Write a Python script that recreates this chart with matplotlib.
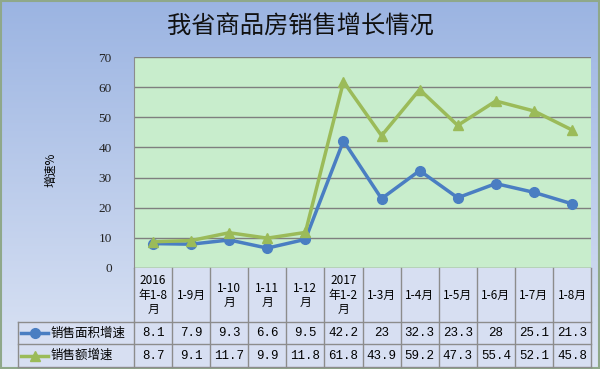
import numpy as np
import matplotlib.pyplot as plt
from matplotlib.lines import Line2D
from matplotlib.patches import Rectangle
from matplotlib.colors import LinearSegmentedColormap

plt.rcParams['font.family'] = ['Noto Sans CJK SC', 'DejaVu Sans']

# data
categories = ['2016\n年1-8\n月', '1-9月', '1-10\n月', '1-11\n月', '1-12\n月', '2017\n年1-2\n月',
              '1-3月', '1-4月', '1-5月', '1-6月', '1-7月', '1-8月']
area_growth = [8.1, 7.9, 9.3, 6.6, 9.5, 42.2, 23, 32.3, 23.3, 28, 25.1, 21.3]
sales_growth = [8.7, 9.1, 11.7, 9.9, 11.8, 61.8, 43.9, 59.2, 47.3, 55.4, 52.1, 45.8]
area_labels = ['8.1', '7.9', '9.3', '6.6', '9.5', '42.2', '23', '32.3', '23.3', '28', '25.1', '21.3']
sales_labels = ['8.7', '9.1', '11.7', '9.9', '11.8', '61.8', '43.9', '59.2', '47.3', '55.4', '52.1', '45.8']
series_names = ['销售面积增速', '销售额增速']

blue = '#4A7EC2'
green = '#9BBB59'
W, H = 600, 369

fig = plt.figure(figsize=(6, 3.69), dpi=100)

# gradient background
bg = fig.add_axes([0, 0, 1, 1], zorder=-10)
grad = np.linspace(0, 1, 256).reshape(-1, 1)
cmap = LinearSegmentedColormap.from_list('bg', ['#9BB4E2', '#DCE4F4'])
bg.imshow(grad, aspect='auto', cmap=cmap, extent=[0, 1, 0, 1], origin='upper')
bg.add_patch(Rectangle((0.002, 0.003), 0.996, 0.994, fill=False, ec='#8FA88A', lw=1.5,
                       transform=bg.transAxes))
bg.set_axis_off()

def fx(px):
    return px / W

def fy(py):
    return 1 - py / H

left, right, top, bottom = 134, 591, 57, 268
ax = fig.add_axes([fx(left), fy(bottom), fx(right) - fx(left), fy(top) - fy(bottom)])
ax.set_facecolor('#C8EDCC')
n = len(categories)
x = np.arange(n)
ax.plot(x, area_growth, color=blue, lw=2.5, marker='o', ms=7, zorder=3)
ax.plot(x, sales_growth, color=green, lw=2.5, marker='^', ms=7, zorder=3)
ax.set_xlim(-0.5, n - 0.5)
ax.set_ylim(0, 70)
ax.set_yticks(range(0, 71, 10))
ax.yaxis.grid(True, color='#7F7F7F', lw=1)
ax.set_axisbelow(True)
ax.tick_params(axis='y', length=0, pad=16, labelsize=9.5, labelcolor='#222222',
               labelfontfamily='Liberation Serif')
ax.tick_params(axis='x', length=0, labelbottom=False)
for s in ax.spines.values():
    s.set_color('#8C8C8C')
ax.spines['top'].set_visible(False)
ax.spines['right'].set_visible(False)

fig.text(fx(51), fy(170), '增速%', rotation=90, ha='center', va='center', fontsize=8.5)
fig.text(0.5, fy(27), '我省商品房销售增长情况', ha='center', va='center', fontsize=17.5,
         color='#111111')

# data table
col_w = (right - left) / n
rows = [(268, 322), (322, 344), (344, 367)]
line_kw = dict(color='#8C8C8C', lw=1, transform=fig.transFigure)
cell = '#D7DFF2'
fig.patches.append(Rectangle((fx(left), fy(367)), fx(right) - fx(left), fy(268) - fy(367),
                             transform=fig.transFigure, fc=cell, ec='none', zorder=1))
fig.patches.append(Rectangle((fx(18), fy(367)), fx(left) - fx(18), fy(322) - fy(367),
                             transform=fig.transFigure, fc=cell, ec='none', zorder=1))
for y0, y1 in rows:
    fig.lines.append(Line2D([fx(left if y0 == 268 else 18), fx(right)], [fy(y1), fy(y1)], **line_kw))
fig.lines.append(Line2D([fx(18), fx(18)], [fy(322), fy(367)], **line_kw))
for i in range(n + 1):
    xp = left + i * col_w
    fig.lines.append(Line2D([fx(xp), fx(xp)], [fy(268), fy(367)], **line_kw))
fig.lines.append(Line2D([fx(18), fx(left)], [fy(322), fy(322)], **line_kw))

for i, cat in enumerate(categories):
    xc = fx(left + (i + 0.5) * col_w)
    fig.text(xc, fy(295), cat, ha='center', va='center', fontsize=8.5, linespacing=1.1)
    fig.text(xc, fy(333), area_labels[i], ha='center', va='center', fontsize=9,
             family=['Liberation Mono', 'DejaVu Sans Mono'])
    fig.text(xc, fy(356), sales_labels[i], ha='center', va='center', fontsize=9,
             family=['Liberation Mono', 'DejaVu Sans Mono'])

for (y0, y1), name, col, mk in zip(rows[1:], series_names, [blue, green], ['o', '^']):
    ym = fy((y0 + y1) / 2)
    fig.lines.append(Line2D([fx(21), fx(48)], [ym, ym], color=col, lw=2.5,
                            transform=fig.transFigure))
    fig.lines.append(Line2D([fx(34.5)], [ym], color=col, marker=mk, ms=7,
                            transform=fig.transFigure))
    fig.text(fx(51), ym, name, ha='left', va='center', fontsize=9)

fig.savefig('out.png', dpi=100)
